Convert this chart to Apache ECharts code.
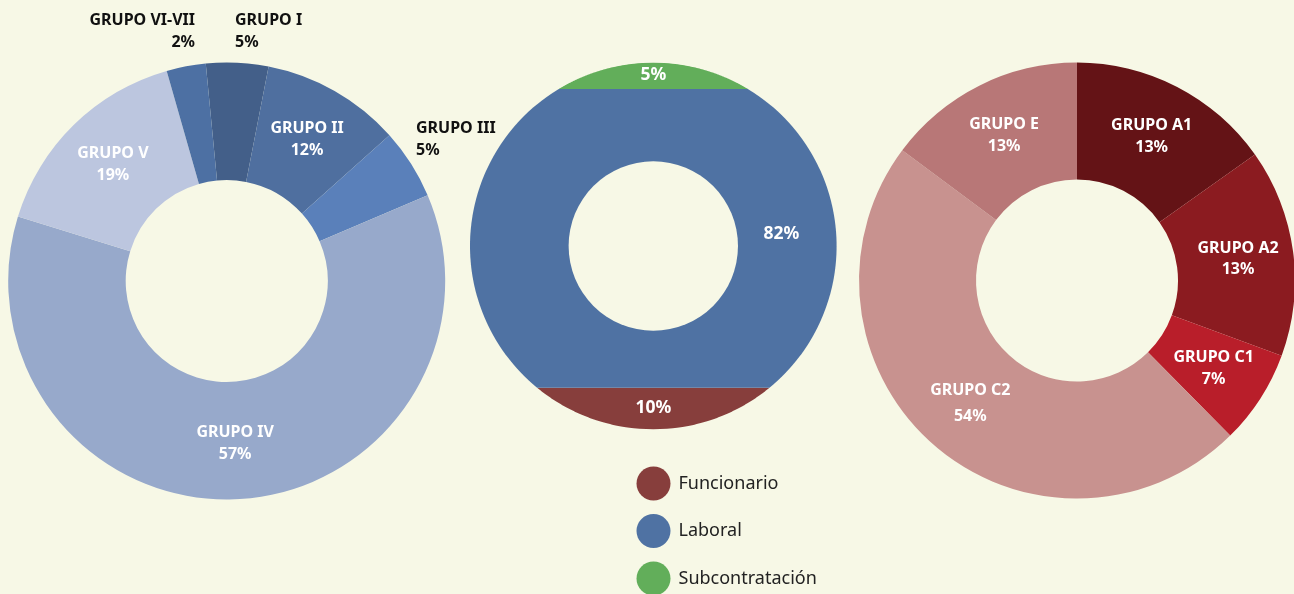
<!DOCTYPE html>
<html>
<head>
<meta charset="utf-8">
<title>Plantilla por grupo y tipo de contrato</title>
<script src="https://cdn.jsdelivr.net/npm/echarts@6/dist/echarts.min.js"></script>
<style>
  html, body { margin: 0; padding: 0; background: #f7f8e6; }
  #chart { width: 1294px; height: 594px; }
</style>
</head>
<body>
<div id="chart"></div>
<script>
// left donut: grupos profesionales (laboral)
var leftNames = ["GRUPO I", "GRUPO II", "GRUPO III", "GRUPO IV", "GRUPO V", "GRUPO VI-VII"];
var leftShares = [4.6, 10.3, 5.2, 61.2, 15.8, 2.9];
var leftPct = ["5%", "12%", "5%", "57%", "19%", "2%"];
var leftColors = ["#435f89", "#4f6f9f", "#5a80ba", "#97a9cb", "#bcc6df", "#4d70a3"];

// middle: tipo de contrato
var contractNames = ["Funcionario", "Laboral", "Subcontratación"];
var contractValues = [10, 82, 5];
var contractPct = ["10%", "82%", "5%"];
var contractColors = ["#873e3c", "#4f72a3", "#62ae5a"];

// right donut: grupos (funcionario)
var rightNames = ["GRUPO A1", "GRUPO A2", "GRUPO C1", "GRUPO C2", "GRUPO E"];
var rightShares = [15.2, 15.4, 7.0, 47.6, 14.8];
var rightPct = ["13%", "13%", "7%", "54%", "13%"];
var rightColors = ["#641316", "#8b1b20", "#b91e2a", "#c8928f", "#b87777"];

// no narrow face installed, so a smaller Noto Sans stands in
var FONT = '"Noto Sans", sans-serif';
var BG = "#f7f8e6";
var axisMin = -1.4, axisMax = 99.2;
var holeRatio = 0.462;

// labels that sit outside the ring
var outsideLabels = {
  0: { x: 235, y: 10, align: "left" },
  2: { x: 416, y: 118, align: "left" },
  5: { x: 195, y: 10, align: "right" }
};

var chart = echarts.init(document.getElementById("chart"));

function pieData(names, shares, colors) {
  return names.map(function (n, i) {
    return { name: n, value: shares[i], itemStyle: { color: colors[i] } };
  });
}

function makeBand(i) {
  var last = contractValues.length - 1;
  return function (params, api) {
    var bl = api.coord([-1, axisMin]);
    var tr = api.coord([1, axisMax]);
    var cx = (bl[0] + tr[0]) / 2, cy = (bl[1] + tr[1]) / 2;
    var r = (tr[0] - bl[0]) / 2;
    var yBottom = i === 0 ? cy + r : api.coord([0, api.value(1)])[1];
    var yTop = i === last ? cy - r : api.coord([0, api.value(2)])[1];
    var n = 80, pts = [], k, y, hw;
    for (k = 0; k <= n; k++) {
      y = yBottom + (yTop - yBottom) * k / n;
      hw = Math.sqrt(Math.max(0, r * r - (y - cy) * (y - cy)));
      pts.push([cx + hw, y]);
    }
    for (k = n; k >= 0; k--) {
      y = yBottom + (yTop - yBottom) * k / n;
      hw = Math.sqrt(Math.max(0, r * r - (y - cy) * (y - cy)));
      pts.push([cx - hw, y]);
    }
    var children = [{
      type: "polygon",
      shape: { points: pts },
      style: { fill: contractColors[i] }
    }];
    var lx = cx, ly = (yTop + yBottom) / 2 - 1;
    if (i !== 0 && i !== last) {
      children.push({
        type: "circle",
        shape: { cx: cx, cy: cy, r: r * holeRatio },
        style: { fill: BG }
      });
      lx = cx + (r * holeRatio + r) / 2 - 6;
      ly = cy - 12;
    }
    children.push({
      type: "text",
      style: {
        text: contractPct[i], x: lx, y: ly,
        fill: "#fff", fontSize: 17.5, fontWeight: "bold", fontFamily: FONT,
        align: "center", verticalAlign: "middle"
      }
    });
    return { type: "group", children: children };
  };
}

var start = 0;
var bandSeries = contractNames.map(function (name, i) {
  var s = {
    name: name,
    type: "custom",
    xAxisIndex: 0,
    yAxisIndex: 0,
    itemStyle: { color: contractColors[i] },
    encode: { x: 0, y: [1, 2] },
    data: [[0, start, start + contractValues[i]]],
    renderItem: makeBand(i),
    silent: true
  };
  start += contractValues[i];
  return s;
});

var donutLabel = {
  show: true,
  position: "inside",
  color: "#fff",
  fontSize: 16,
  fontWeight: "bold",
  fontFamily: FONT,
  lineHeight: 21.6
};

var option = {
  backgroundColor: BG,
  animation: false,
  grid: { left: 470, top: 62.7, width: 366.6, height: 366.6 },
  xAxis: { type: "value", min: -1, max: 1, show: false },
  yAxis: { type: "value", min: axisMin, max: axisMax, show: false },
  legend: {
    data: contractNames,
    orient: "vertical",
    left: 636.5,
    top: 466.5,
    height: 200,
    padding: 0,
    icon: "circle",
    itemWidth: 34,
    itemHeight: 34,
    itemGap: 13.5,
    textStyle: { fontSize: 18, fontFamily: FONT, color: "#222", padding: [0, 0, 0, 3] }
  },
  series: [
    {
      name: "grupos laboral",
      type: "pie",
      center: [226.7, 281],
      radius: [101, 218.5],
      startAngle: 95.5,
      clockwise: true,
      avoidLabelOverlap: false,
      silent: true,
      itemStyle: { borderWidth: 0 },
      label: Object.assign({}, donutLabel, {
        formatter: function (p) { return p.name + "\n" + leftPct[p.dataIndex]; }
      }),
      labelLine: { show: false },
      labelLayout: function (p) {
        var o = outsideLabels[p.dataIndex];
        if (!o) return {};
        return { x: o.x, y: o.y, align: o.align, verticalAlign: "top" };
      },
      data: pieData(leftNames, leftShares, leftColors).map(function (d, i) {
        if (outsideLabels[i]) d.label = { color: "#111", align: outsideLabels[i].align };
        return d;
      })
    },
    {
      name: "grupos funcionario",
      type: "pie",
      center: [1077, 280.5],
      radius: [101, 218],
      startAngle: 90,
      clockwise: true,
      avoidLabelOverlap: false,
      silent: true,
      itemStyle: { borderWidth: 0 },
      label: Object.assign({}, donutLabel, {
        formatter: function (p) { return p.name + "\n" + rightPct[p.dataIndex]; }
      }),
      labelLine: { show: false },
      data: pieData(rightNames, rightShares, rightColors).map(function (d, i) {
        if (rightNames[i] === "GRUPO C2") d.label = { lineHeight: 26 };
        return d;
      })
    }
  ].concat(bandSeries)
};

chart.setOption(option);
</script>
</body>
</html>
